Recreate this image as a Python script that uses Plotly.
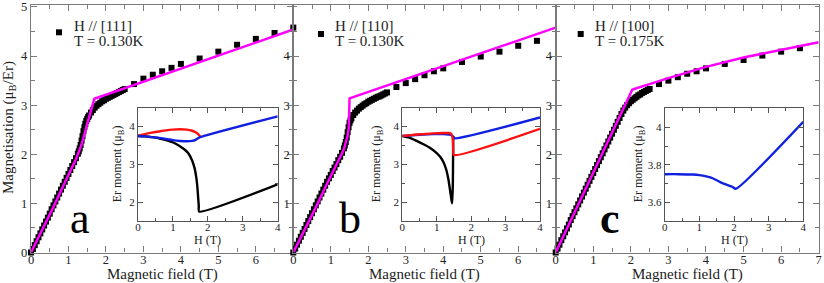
import plotly.graph_objects as go

W, H = 824, 283

# ---------------- data ----------------
# Panel a: H // [111], T = 0.130 K
field_a = [0, 0.05, 0.1, 0.15, 0.2, 0.25, 0.3, 0.35, 0.4, 0.45, 0.5, 0.55, 0.6, 0.65, 0.7, 0.75,
           0.8, 0.85, 0.9, 0.95, 1.0, 1.05, 1.1, 1.15, 1.2, 1.25, 1.275, 1.3, 1.325, 1.35, 1.375, 1.4,
           1.425, 1.45, 1.475, 1.5, 1.525, 1.55,
           1.6, 1.65, 1.7, 1.75, 1.8, 1.85, 1.9, 1.95, 2.0, 2.05, 2.1, 2.15, 2.2, 2.25, 2.3, 2.35,
           2.4, 2.45, 2.5, 2.75, 3.0, 3.25, 3.5, 3.75, 4.0, 4.5, 5.0, 5.5, 6.0, 6.5, 7.0]
magn_a = [0, 0.07, 0.15, 0.23, 0.31, 0.39, 0.47, 0.55, 0.63, 0.71, 0.79, 0.88, 0.96, 1.04, 1.12, 1.2,
          1.28, 1.36, 1.44, 1.52, 1.6, 1.68, 1.76, 1.84, 1.92, 2.01, 2.06, 2.12, 2.19, 2.28, 2.37, 2.47,
          2.55, 2.62, 2.68, 2.72, 2.76, 2.79,
          2.85, 2.9, 2.95, 2.99, 3.02, 3.05, 3.08, 3.1, 3.13, 3.15, 3.17, 3.19, 3.21, 3.23, 3.25, 3.27,
          3.29, 3.31, 3.33, 3.43, 3.54, 3.62, 3.69, 3.76, 3.84, 3.95, 4.09, 4.23, 4.35, 4.47, 4.58]
theory_a_field = [0, 0.3, 0.6, 0.9, 1.2, 1.35, 1.45, 1.5, 1.69, 7.0]
theory_a_magn = [0, 0.45, 0.93, 1.42, 1.9, 2.2, 2.45, 2.62, 3.13, 4.54]

# Panel b: H // [110], T = 0.130 K
field_b = [0, 0.05, 0.1, 0.15, 0.2, 0.25, 0.3, 0.35, 0.4, 0.45, 0.5, 0.55, 0.6, 0.65, 0.7, 0.75,
           0.8, 0.85, 0.9, 0.95, 1.0, 1.05, 1.1, 1.15, 1.2, 1.25, 1.3, 1.35, 1.375, 1.4, 1.425, 1.45,
           1.475, 1.5, 1.525, 1.55,
           1.6, 1.65, 1.7, 1.75, 1.8, 1.85, 1.9, 1.95, 2.0, 2.05, 2.1, 2.15, 2.2, 2.25, 2.3, 2.35,
           2.4, 2.45, 2.5, 2.75, 3.0, 3.25, 3.5, 3.75, 4.0, 4.5, 5.0, 5.5, 6.0, 6.5]
magn_b = [0, 0.08, 0.16, 0.24, 0.32, 0.4, 0.48, 0.56, 0.64, 0.72, 0.8, 0.88, 0.96, 1.04, 1.12, 1.2,
          1.28, 1.36, 1.44, 1.51, 1.58, 1.66, 1.73, 1.8, 1.88, 1.95, 2.03, 2.12, 2.18, 2.25, 2.34, 2.45,
          2.55, 2.64, 2.69, 2.73,
          2.8, 2.85, 2.89, 2.93, 2.96, 2.99, 3.02, 3.04, 3.07, 3.09, 3.11, 3.13, 3.15, 3.17, 3.18, 3.2,
          3.22, 3.24, 3.26, 3.37, 3.45, 3.53, 3.61, 3.69, 3.75, 3.88, 3.99, 4.09, 4.21, 4.31]
theory_b_field = [0, 0.3, 0.6, 0.9, 1.2, 1.35, 1.45, 1.48, 1.5, 7.0]
theory_b_magn = [0, 0.45, 0.92, 1.4, 1.86, 2.1, 2.38, 2.55, 3.14, 4.58]

# Panel c: H // [100], T = 0.175 K
field_c = [0, 0.05, 0.1, 0.15, 0.2, 0.25, 0.3, 0.35, 0.4, 0.45, 0.5, 0.55, 0.6, 0.65, 0.7, 0.75,
           0.8, 0.85, 0.9, 0.95, 1.0, 1.05, 1.1, 1.15, 1.2, 1.25, 1.3, 1.35, 1.4, 1.45, 1.5, 1.55,
           1.6, 1.65, 1.7, 1.75, 1.8, 1.85, 1.9, 1.95, 2.0, 2.05, 2.1, 2.15, 2.2, 2.25, 2.3, 2.35,
           2.4, 2.45, 2.5, 2.75, 3.0, 3.25, 3.5, 3.75, 4.0, 4.5, 5.0, 5.5, 6.0, 6.5]
magn_c = [0, 0.08, 0.16, 0.25, 0.33, 0.41, 0.49, 0.57, 0.66, 0.74, 0.82, 0.9, 0.98, 1.06, 1.14, 1.22,
          1.3, 1.38, 1.46, 1.54, 1.62, 1.7, 1.78, 1.86, 1.94, 2.02, 2.1, 2.18, 2.26, 2.34, 2.42, 2.5,
          2.58, 2.66, 2.74, 2.82, 2.89, 2.95, 3.0, 3.04, 3.08, 3.11, 3.14, 3.17, 3.2, 3.22, 3.25, 3.27,
          3.29, 3.31, 3.33, 3.43, 3.5, 3.57, 3.64, 3.69, 3.75, 3.84, 3.92, 4.01, 4.09, 4.16]
theory_c_field = [0, 2.04, 3.0, 4.0, 5.0, 6.0, 7.0]
theory_c_magn = [0, 3.32, 3.55, 3.78, 3.97, 4.13, 4.28]

# Insets: Er moment vs H
ia_red_h = [0, 0.2, 0.4, 0.6, 0.8, 1.0, 1.2, 1.4, 1.55, 1.65, 1.72, 1.76, 1.78]
ia_red_m = [3.76, 3.8, 3.84, 3.87, 3.9, 3.92, 3.93, 3.92, 3.89, 3.85, 3.8, 3.76, 3.72]
ia_blue_h = [0, 0.2, 0.4, 0.6, 0.8, 1.0, 1.2, 1.4, 1.55, 1.65, 1.72, 1.78, 4.0]
ia_blue_m = [3.75, 3.74, 3.72, 3.7, 3.67, 3.64, 3.62, 3.61, 3.62, 3.65, 3.69, 3.72, 4.27]
ia_black_h = [0, 0.2, 0.4, 0.6, 0.8, 1.0, 1.2, 1.35, 1.45, 1.55, 1.62, 1.67, 1.7, 1.72, 1.74, 1.75, 4.0]
ia_black_m = [3.75, 3.74, 3.72, 3.69, 3.64, 3.58, 3.48, 3.38, 3.28, 3.1, 2.9, 2.65, 2.4, 2.15, 1.9, 1.75, 2.47]

ib_blue_h = [0, 0.3, 0.6, 0.9, 1.2, 1.35, 1.42, 1.47, 1.52, 4.0]
ib_blue_m = [3.75, 3.77, 3.79, 3.8, 3.8, 3.79, 3.78, 3.74, 3.69, 4.24]
ib_red_h = [0, 0.3, 0.6, 0.9, 1.2, 1.35, 1.42, 1.46, 1.48, 1.5, 4.0]
ib_red_m = [3.75, 3.78, 3.8, 3.82, 3.83, 3.83, 3.81, 3.7, 3.4, 3.25, 3.94]
ib_black_h = [0, 0.2, 0.4, 0.6, 0.8, 1.0, 1.1, 1.2, 1.28, 1.34, 1.39, 1.43, 1.45, 1.47, 1.48]
ib_black_m = [3.75, 3.71, 3.63, 3.54, 3.44, 3.3, 3.2, 3.05, 2.85, 2.6, 2.3, 2.05, 1.97, 2.6, 3.75]

ic_blue_h = [0, 0.4, 0.8, 1.0, 1.2, 1.4, 1.6, 1.8, 1.95, 2.05, 4.0]
ic_blue_m = [3.75, 3.75, 3.748, 3.745, 3.738, 3.727, 3.708, 3.693, 3.683, 3.672, 4.03]

legend_lines = [("H // [111]", "T = 0.130K"), ("H // [110]", "T = 0.130K"), ("H // [100]", "T = 0.175K")]
panel_letters = ["a", "b", "c"]

# ---------------- layout helpers ----------------
def fx(p):
    return p / W

def fy(p):
    return 1 - p / H

SERIF = "Liberation Serif"
GRAY = "#7a7a7a"
TXT = "#222222"
MAGENTA = "#ff00ff"
RED = "#ff1010"
BLUE = "#1020e0"

panel_px = [(31, 293.3), (293.3, 555.7), (555.7, 818.7)]
main_y_px = (252.5, 5.0)
inset_px = [(138.0, 277.7), (402.3, 540.0), (664.7, 803.3)]
inset_y_px = (221.0, 107.7)

fig = go.Figure()

datasets = [(field_a, magn_a, theory_a_field, theory_a_magn),
            (field_b, magn_b, theory_b_field, theory_b_magn),
            (field_c, magn_c, theory_c_field, theory_c_magn)]

for i, (fh, fm, th, tm) in enumerate(datasets):
    xa = "x" if i == 0 else f"x{i+1}"
    ya = "y" if i == 0 else f"y{i+1}"
    fig.add_trace(go.Scatter(x=fh, y=fm, mode="markers", xaxis=xa, yaxis=ya,
                             marker=dict(symbol="square", size=6, color="black"),
                             cliponaxis=False, showlegend=False))
    fig.add_trace(go.Scatter(x=th, y=tm, mode="lines", xaxis=xa, yaxis=ya,
                             line=dict(color=MAGENTA, width=2.5), showlegend=False))

insets = [
    [(ia_red_h, ia_red_m, RED), (ia_black_h, ia_black_m, "black"), (ia_blue_h, ia_blue_m, BLUE)],
    [(ib_black_h, ib_black_m, "black"), (ib_blue_h, ib_blue_m, BLUE), (ib_red_h, ib_red_m, RED)],
    [(ic_blue_h, ic_blue_m, BLUE)],
]
for i, curves in enumerate(insets):
    xa = f"x{i+4}"
    ya = f"y{i+4}"
    for hh, mm, col in curves:
        fig.add_trace(go.Scatter(x=hh, y=mm, mode="lines", xaxis=xa, yaxis=ya,
                                 line=dict(color=col, width=2.4, shape="spline", smoothing=0.6),
                                 showlegend=False))

layout = dict(width=W, height=H, margin=dict(l=0, r=0, t=0, b=0, autoexpand=False),
              paper_bgcolor="white", plot_bgcolor="rgba(0,0,0,0)", showlegend=False,
              font=dict(family=SERIF, color=TXT))

for i in range(3):
    xk = "xaxis" if i == 0 else f"xaxis{i+1}"
    yk = "yaxis" if i == 0 else f"yaxis{i+1}"
    xs = "x" if i == 0 else f"x{i+1}"
    ys = "y" if i == 0 else f"y{i+1}"
    xtickvals = [0, 1, 2, 3, 4, 5, 6, 7] if i == 2 else [0, 1, 2, 3, 4, 5, 6]
    ytickvals = [0, 1, 2, 3, 4, 5] if i == 0 else [1, 2, 3, 4]
    common = dict(showline=True, linecolor=GRAY, linewidth=1.3, mirror="ticks", ticks="inside",
                  ticklen=6, tickcolor=GRAY, tickwidth=1.2, showgrid=False, zeroline=False,
                  tickfont=dict(family=SERIF, size=12.5, color=TXT))
    layout[xk] = dict(common, domain=[fx(panel_px[i][0]), fx(panel_px[i][1])], range=[0, 7], anchor=ys,
                      tickmode="array", tickvals=xtickvals, ticklabelstandoff=-5,
                      minor=dict(ticks="inside", ticklen=4, tickcolor=GRAY, tickmode="linear", tick0=0, dtick=0.5))
    layout[yk] = dict(common, domain=[fy(main_y_px[0]), fy(main_y_px[1])], range=[0, 5.04], anchor=xs,
                      tickmode="array", tickvals=ytickvals,
                      minor=dict(ticks="inside", ticklen=4, tickcolor=GRAY, tickmode="linear", tick0=0, dtick=0.5))

for i in range(3):
    xk = f"xaxis{i+4}"
    yk = f"yaxis{i+4}"
    icommon = dict(showline=True, linecolor="#555555", linewidth=1.2, mirror="ticks", ticks="inside",
                   ticklen=5, tickcolor="#555555", tickwidth=1.1, showgrid=False, zeroline=False,
                   tickfont=dict(family=SERIF, size=11, color=TXT))
    layout[xk] = dict(icommon, domain=[fx(inset_px[i][0]), fx(inset_px[i][1])], range=[0, 4],
                      anchor=f"y{i+4}", dtick=1, tick0=0, ticklabelstandoff=-4,
                      minor=dict(ticks="inside", ticklen=3, tickcolor="#555555", dtick=0.5))
    if i < 2:
        layout[yk] = dict(icommon, domain=[fy(inset_y_px[0]), fy(inset_y_px[1])], range=[1.5, 4.5],
                          anchor=f"x{i+4}", tickmode="array", tickvals=[2, 3, 4], ticktext=["2", "3", "4"],
                          minor=dict(ticks="inside", ticklen=3, tickcolor="#555555", tickmode="linear", tick0=0, dtick=0.5))
    else:
        layout[yk] = dict(icommon, domain=[fy(inset_y_px[0]), fy(inset_y_px[1])], range=[3.5, 4.105],
                          anchor=f"x{i+4}", tickmode="array", tickvals=[3.6, 3.8, 4.0], ticktext=["3.6", "3.8", "4"],
                          minor=dict(ticks="inside", ticklen=3, tickcolor="#555555", tickmode="linear", tick0=3.5, dtick=0.1))

fig.update_layout(**layout)

ann = []
shapes = []
# main axis titles
for i in range(3):
    cx = (panel_px[i][0] + panel_px[i][1]) / 2
    ann.append(dict(x=fx(cx), y=fy(274), xref="paper", yref="paper", text="Magnetic field (T)",
                    showarrow=False, xanchor="center", yanchor="middle",
                    font=dict(family=SERIF, size=15, color=TXT)))
ann.append(dict(x=fx(9), y=fy(128), xref="paper", yref="paper", text="Magnetisation (μ<sub>B</sub>/Er)",
                showarrow=False, textangle=-90, xanchor="center", yanchor="middle",
                font=dict(family=SERIF, size=15, color=TXT)))

# legend-like labels
leg_marker = [(59, 32.3), (321, 34), (580.7, 34)]
leg_text_x = [71.7, 333.3, 593.3]
for i in range(3):
    mx, my = leg_marker[i]
    shapes.append(dict(type="rect", xref="paper", yref="paper",
                       x0=fx(mx - 3), x1=fx(mx + 3), y0=fy(my + 3), y1=fy(my - 3),
                       fillcolor="black", line=dict(width=0)))
    ann.append(dict(x=fx(leg_text_x[i]), y=fy(26), xref="paper", yref="paper", text=legend_lines[i][0],
                    showarrow=False, xanchor="left", yanchor="middle",
                    font=dict(family=SERIF, size=15, color=TXT)))
    ann.append(dict(x=fx(leg_text_x[i]), y=fy(40.5), xref="paper", yref="paper", text=legend_lines[i][1],
                    showarrow=False, xanchor="left", yanchor="middle",
                    font=dict(family=SERIF, size=15, color=TXT)))

# panel letters
letter_x = [79.5, 350, 610]
for i in range(3):
    txt = panel_letters[i] if i < 2 else "<b>c</b>"
    ann.append(dict(x=fx(letter_x[i]), y=fy(218), xref="paper", yref="paper", text=txt,
                    showarrow=False, xanchor="center", yanchor="middle",
                    font=dict(family=SERIF, size=44, color="black")))

# inset titles
inset_ytitle_x = [118.3, 377.3, 639.3]
for i in range(3):
    cx = (inset_px[i][0] + inset_px[i][1]) / 2
    ann.append(dict(x=fx(cx), y=fy(240), xref="paper", yref="paper", text="H (T)",
                    showarrow=False, xanchor="center", yanchor="middle",
                    font=dict(family=SERIF, size=12, color=TXT)))
    ann.append(dict(x=fx(inset_ytitle_x[i]), y=fy(164), xref="paper", yref="paper",
                    text="Er moment (μ<sub>B</sub>)", showarrow=False, textangle=-90,
                    xanchor="center", yanchor="middle",
                    font=dict(family=SERIF, size=12, color=TXT)))

fig.update_layout(annotations=ann, shapes=shapes)
fig.write_html("out.html", config={"displayModeBar": False},
               post_script="document.body.style.margin='0px';")
